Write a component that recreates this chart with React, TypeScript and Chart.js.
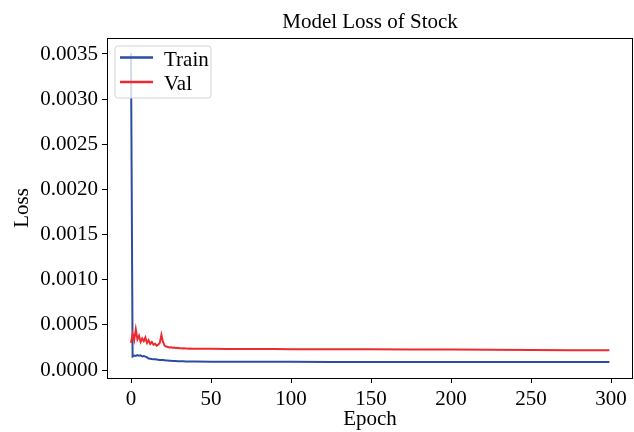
import React, { useEffect, useRef } from "react";
import { Chart, registerables } from "chart.js";

Chart.register(...registerables);

// ---------- data ----------
const epochs = [
  0, 1, 2, 3, 4, 5, 6, 7, 8, 9,
  10, 11, 12, 13, 14, 15, 16, 17, 18, 19,
  20, 21, 22, 23, 24, 25, 26, 27, 28, 29,
  30, 31, 32, 33, 34, 35, 36, 37, 38, 39,
  40, 50, 60, 70, 80, 90, 100, 125, 150, 175,
  200, 225, 250, 275, 299,
];

const trainLoss = [
  0.00351, 0.00015, 0.00016, 0.000155, 0.000165, 0.000158, 0.000162, 0.00015, 0.000155, 0.000148,
  0.00014, 0.000128, 0.000125, 0.000122, 0.00012, 0.000118, 0.000116, 0.000114, 0.000112, 0.000111,
  0.00011, 0.000108, 0.000106, 0.000105, 0.000103, 0.000102, 0.000101, 0.0001, 0.000099, 0.000098,
  0.000097, 0.000097, 0.000096, 0.000096, 0.000095, 0.000095, 0.000094, 0.000094, 0.000094, 0.000093,
  0.000093, 0.000092, 0.000091, 0.000091, 0.00009, 0.00009, 0.00009, 0.000089, 0.000089, 0.000089,
  0.000088, 0.000088, 0.000088, 0.000088, 0.000088,
];

const valLoss = [
  0.0003, 0.0004, 0.00033, 0.00045, 0.00034, 0.00038, 0.00031, 0.00035, 0.00032, 0.00036,
  0.0003, 0.00033, 0.00029, 0.00031, 0.00028, 0.00029, 0.00027, 0.00028, 0.0003, 0.00039,
  0.00031, 0.00027, 0.00026, 0.000255, 0.00025, 0.000252, 0.000246, 0.000248, 0.000243, 0.000245,
  0.00024, 0.000242, 0.000239, 0.00024, 0.000237, 0.000238, 0.000236, 0.000237, 0.000235, 0.000236,
  0.000235, 0.000234, 0.000233, 0.000233, 0.000232, 0.000232, 0.000231, 0.00023, 0.000229, 0.000228,
  0.000226, 0.000224, 0.000222, 0.00022, 0.000218,
];

const seriesNames = ["Train", "Val"];
const seriesColors = ["#2A4CA3", "#ED2A2F"];
const xTickValues = [0, 50, 100, 150, 200, 250, 300];
const yTickValues = [0, 0.0005, 0.001, 0.0015, 0.002, 0.0025, 0.003, 0.0035];
const chartTitle = "Model Loss of Stock";
const xAxisTitle = "Epoch";
const yAxisTitle = "Loss";

// ---------- styling ----------
const W = 634;
const H = 432;
const FONT = "'Liberation Serif', 'Times New Roman', Times, serif";
const FS = 21;

export default function App() {
  const ref = useRef<HTMLCanvasElement>(null);

  useEffect(() => {
    const canvas = ref.current;
    if (!canvas) return;

    const decor = {
      id: "decor",
      afterDraw(chart: any) {
        const { ctx, chartArea: a } = chart;
        ctx.save();
        // frame
        ctx.strokeStyle = "#000";
        ctx.lineWidth = 1;
        ctx.strokeRect(a.left + 0.5, a.top + 0.5, a.right - a.left - 1, a.bottom - a.top);

        ctx.fillStyle = "#000";
        ctx.font = `${FS}px ${FONT}`;
        // title
        ctx.textAlign = "center";
        ctx.textBaseline = "alphabetic";
        const cx = (a.left + a.right) / 2;
        ctx.fillText(chartTitle, cx, a.top - 10);
        // x title
        ctx.fillText(xAxisTitle, cx, a.bottom + 47);
        // y title
        ctx.save();
        ctx.translate(28, (a.top + a.bottom) / 2);
        ctx.rotate(-Math.PI / 2);
        ctx.fillText(yAxisTitle, 0, 0);
        ctx.restore();

        // legend
        const bx = a.left + 8;
        const by = a.top + 8;
        const bw = 96;
        const bh = 52;
        const r = 3;
        ctx.beginPath();
        ctx.moveTo(bx + r, by);
        ctx.lineTo(bx + bw - r, by);
        ctx.arcTo(bx + bw, by, bx + bw, by + r, r);
        ctx.lineTo(bx + bw, by + bh - r);
        ctx.arcTo(bx + bw, by + bh, bx + bw - r, by + bh, r);
        ctx.lineTo(bx + r, by + bh);
        ctx.arcTo(bx, by + bh, bx, by + bh - r, r);
        ctx.lineTo(bx, by + r);
        ctx.arcTo(bx, by, bx + r, by, r);
        ctx.closePath();
        ctx.fillStyle = "rgba(255,255,255,0.8)";
        ctx.fill();
        ctx.strokeStyle = "#d3d3d3";
        ctx.lineWidth = 1;
        ctx.stroke();

        seriesNames.forEach((name, i) => {
          const ly = a.top + 19.5 + i * 24.5;
          ctx.strokeStyle = seriesColors[i];
          ctx.lineWidth = 2.5;
          ctx.beginPath();
          ctx.moveTo(a.left + 13, ly);
          ctx.lineTo(a.left + 46, ly);
          ctx.stroke();
          ctx.fillStyle = "#000";
          ctx.textAlign = "left";
          ctx.textBaseline = "alphabetic";
          ctx.fillText(name, a.left + 57, ly + 8);
        });
        ctx.restore();
      },
    };

    const chart = new Chart(canvas, {
      type: "line",
      data: {
        datasets: [
          {
            label: seriesNames[0],
            data: epochs.map((e, i) => ({ x: e, y: trainLoss[i] })),
            borderColor: seriesColors[0],
            backgroundColor: seriesColors[0],
            borderWidth: 2,
            pointRadius: 0,
            tension: 0,
            order: 1,
          },
          {
            label: seriesNames[1],
            data: epochs.map((e, i) => ({ x: e, y: valLoss[i] })),
            borderColor: seriesColors[1],
            backgroundColor: seriesColors[1],
            borderWidth: 2,
            pointRadius: 0,
            tension: 0,
            order: 0,
          },
        ],
      },
      options: {
        responsive: false,
        animation: false,
        devicePixelRatio: 1,
        layout: { padding: { top: 38, right: 1, left: 0, bottom: 0 } },
        plugins: {
          legend: { display: false },
          title: { display: false },
          tooltip: { enabled: false },
        },
        scales: {
          x: {
            type: "linear",
            min: -15,
            max: 313.75,
            afterBuildTicks: (s: any) => {
              s.ticks = xTickValues.map((v) => ({ value: v }));
            },
            afterFit: (s: any) => {
              s.height = 54;
            },
            ticks: {
              color: "#000",
              font: { family: FONT, size: FS },
              padding: 4,
              maxRotation: 0,
              autoSkip: false,
              callback: (v: any) => String(v),
            },
            grid: {
              display: true,
              drawOnChartArea: false,
              drawTicks: true,
              tickLength: 5,
              color: "#000",
              lineWidth: 1,
            },
            border: { display: false },
          },
          y: {
            type: "linear",
            min: -0.0000886,
            max: 0.0036772,
            afterBuildTicks: (s: any) => {
              s.ticks = yTickValues.map((v) => ({ value: v }));
            },
            afterFit: (s: any) => {
              s.width = 107;
            },
            ticks: {
              color: "#000",
              font: { family: FONT, size: FS },
              padding: 4,
              autoSkip: false,
              callback: (v: any) => Number(v).toFixed(4),
            },
            grid: {
              display: true,
              drawOnChartArea: false,
              drawTicks: true,
              tickLength: 5,
              color: "#000",
              lineWidth: 1,
            },
            border: { display: false },
          },
        },
      },
      plugins: [decor],
    });

    return () => chart.destroy();
  }, []);

  return (
    <div style={{ position: "fixed", left: 0, top: 0, width: W, height: H, background: "#fff" }}>
      <canvas ref={ref} width={W} height={H} style={{ width: W, height: H, display: "block" }} />
    </div>
  );
}
